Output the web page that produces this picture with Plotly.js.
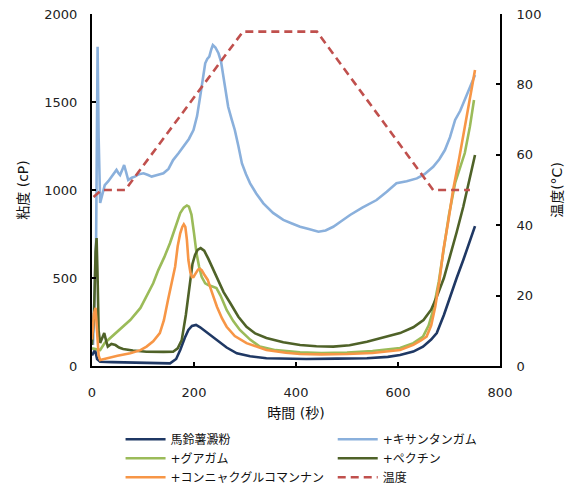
<!DOCTYPE html>
<html>
<head>
<meta charset="utf-8">
<script src="https://cdn.plot.ly/plotly-3.0.1.min.js"></script>
<style>html,body{margin:0;padding:0;background:#fff;overflow:hidden;}#chart{width:576px;height:492px;}</style>
</head>
<body>
<div id="chart"></div>
<script>
// ---- Data ----
const seriesNames = ["馬鈴薯澱粉", "+キサンタンガム", "+グアガム", "+ペクチン", "+コンニャクグルコマンナン", "温度"];

const starchT = [0, 6, 10, 16, 40, 80, 120, 153, 165, 173, 182, 189, 196, 204, 212, 225, 244, 264, 284, 310, 342, 380, 420, 480, 539, 580, 604, 630, 649, 665, 676, 690, 702, 715, 728, 740, 751];
const starchV = [60, 91, 40, 24, 22, 20, 18, 15, 40, 91, 160, 205, 228, 233, 220, 190, 148, 105, 72, 55, 44, 42, 40, 42, 44, 52, 62, 82, 110, 150, 187, 290, 394, 500, 602, 700, 795];

const xanthanT = [2, 8, 11, 13, 16, 20, 25, 32, 39, 44, 48, 52, 55, 60, 63, 67, 71, 78, 84, 92, 101, 110, 117, 128, 140, 150, 159, 170, 179, 190, 199, 206, 212, 217, 222, 226, 230, 234, 237, 242, 248, 253, 257, 262, 267, 274, 280, 287, 294, 302, 310, 322, 336, 355, 375, 392, 408, 425, 444, 458, 473, 490, 506, 530, 558, 578, 597, 617, 637, 652, 669, 681, 692, 702, 712, 722, 731, 741, 751];
const xanthanV = [120, 700, 1814, 1300, 926, 980, 1028, 1050, 1076, 1100, 1114, 1095, 1085, 1120, 1142, 1100, 1057, 1070, 1076, 1090, 1095, 1085, 1076, 1085, 1095, 1120, 1170, 1210, 1246, 1290, 1341, 1420, 1530, 1630, 1720, 1745, 1758, 1800, 1824, 1810, 1777, 1730, 1663, 1570, 1473, 1400, 1341, 1250, 1151, 1090, 1038, 980, 924, 870, 830, 810, 791, 778, 763, 770, 791, 825, 858, 900, 943, 990, 1038, 1050, 1066, 1090, 1132, 1175, 1227, 1300, 1398, 1450, 1511, 1580, 1653];

const guarT = [0, 10, 16, 25, 50, 75, 95, 107, 120, 130, 142, 153, 163, 173, 180, 186, 190, 195, 200, 205, 210, 215, 222, 228, 236, 244, 252, 264, 277, 290, 310, 329, 360, 408, 450, 500, 550, 604, 630, 649, 660, 669, 680, 689, 700, 712, 722, 731, 741, 749];
const guarV = [100, 95, 91, 131, 195, 261, 330, 394, 470, 545, 620, 699, 780, 869, 900, 912, 905, 860, 755, 640, 564, 507, 470, 460, 452, 443, 400, 318, 255, 205, 150, 110, 90, 78, 74, 76, 85, 102, 130, 167, 230, 318, 480, 659, 860, 1040, 1130, 1210, 1360, 1511];

const pectinT = [0, 4, 7, 9, 11, 13, 16, 20, 24, 28, 31, 38, 46, 53, 61, 80, 107, 140, 159, 168, 176, 184, 192, 197, 202, 207, 213, 220, 228, 244, 258, 271, 287, 303, 320, 342, 375, 408, 440, 473, 505, 539, 570, 604, 630, 650, 665, 676, 690, 702, 715, 728, 740, 751];
const pectinV = [120, 300, 650, 727, 500, 200, 131, 160, 187, 140, 110, 125, 119, 105, 97, 88, 81, 80, 81, 100, 148, 290, 471, 580, 631, 660, 670, 655, 610, 507, 420, 358, 280, 223, 185, 159, 135, 119, 112, 110, 118, 138, 160, 187, 220, 261, 320, 394, 500, 621, 760, 905, 1050, 1199];

const konjacT = [0, 4, 7, 10, 13, 16, 30, 50, 75, 95, 107, 120, 133, 141, 149, 156, 163, 168, 173, 177, 180, 183, 186, 189, 193, 196, 199, 203, 208, 212, 215, 220, 227, 235, 245, 255, 264, 280, 303, 342, 380, 408, 450, 500, 550, 604, 630, 645, 656, 665, 673, 681, 689, 699, 708, 720, 730, 740, 751];
const konjacV = [150, 300, 330, 200, 60, 34, 45, 58, 72, 90, 110, 140, 187, 260, 375, 470, 564, 680, 754, 790, 805, 790, 720, 602, 530, 505, 506, 525, 548, 551, 545, 520, 489, 420, 337, 270, 223, 170, 130, 91, 75, 68, 66, 68, 74, 91, 120, 145, 167, 230, 337, 480, 659, 830, 1000, 1180, 1350, 1510, 1682];

const tempT = [3, 19, 65, 296, 441, 669, 741];
const tempV = [48, 50, 50, 95, 95, 50, 50];

const xTicks = [0, 200, 400, 600, 800];
const yTicks = [0, 500, 1000, 1500, 2000];
const y2Ticks = [0, 20, 40, 60, 80, 100];

// ---- Styling ----
const FONT = "DejaVu Sans, Verdana, 'Noto Sans CJK JP', sans-serif";
const colors = ["#1F3864", "#8AB0DC", "#9BBB59", "#4F6228", "#F79646", "#C0504D"];
const LW = 2.6;

function line(x, y, i, legend, extra) {
  return Object.assign({
    type: "scatter", mode: "lines", x: x, y: y, name: seriesNames[i],
    line: {color: colors[i], width: LW}, legend: legend, hoverinfo: "skip"
  }, extra || {});
}

const traces = [
  line(starchT, starchV, 0, "legend"),
  line(xanthanT, xanthanV, 1, "legend2"),
  line(guarT, guarV, 2, "legend"),
  line(pectinT, pectinV, 3, "legend2"),
  line(konjacT, konjacV, 4, "legend"),
  line(tempT, tempV, 5, "legend2", {yaxis: "y2", line: {color: colors[5], width: LW, dash: "8px,5px"}})
];

const axisCommon = {
  showline: true, linecolor: "#000", linewidth: 2,
  ticks: "inside", ticklen: 4, tickwidth: 2, tickcolor: "#000",
  showgrid: false, zeroline: false,
  tickfont: {family: FONT, size: 13, color: "#222"}
};

const legendCommon = {
  orientation: "v", yanchor: "bottom", xanchor: "left",
  font: {family: FONT, size: 12, color: "#111"},
  bgcolor: "rgba(0,0,0,0)", itemwidth: 40, tracegroupgap: 0
};

// plot area: top margin 0 with a y-domain that leaves 14px at the top
const yDomain = [0, 352 / 366];

const layout = {
  width: 576, height: 492,
  margin: {l: 92, r: 76, t: 0, b: 126},
  paper_bgcolor: "#fff", plot_bgcolor: "#fff",
  font: {family: FONT, size: 12, color: "#222"},
  showlegend: true,
  xaxis: Object.assign({}, axisCommon, {
    range: [0, 800], tickvals: xTicks, ticklabelstandoff: 13,
    title: {text: "時間 (秒)", font: {family: FONT, size: 14, color: "#111"}, standoff: 10}
  }),
  yaxis: Object.assign({}, axisCommon, {
    domain: yDomain,
    range: [0, 2000], tickvals: yTicks, ticklabelstandoff: 10,
    title: {text: "粘度 (cP)", font: {family: FONT, size: 14, color: "#111"}, standoff: 12}
  }),
  yaxis2: Object.assign({}, axisCommon, {
    domain: yDomain,
    range: [0, 100], tickvals: y2Ticks, overlaying: "y", side: "right", ticklabelstandoff: 12,
    title: {text: "温度(°C)", font: {family: FONT, size: 14, color: "#111"}, standoff: 12}
  }),
  legend: Object.assign({}, legendCommon, {x: 0.07, y: -0.3435}),
  legend2: Object.assign({}, legendCommon, {x: 0.59, y: -0.3435})
};

Plotly.newPlot("chart", traces, layout, {staticPlot: true, displayModeBar: false});
</script>
</body>
</html>
